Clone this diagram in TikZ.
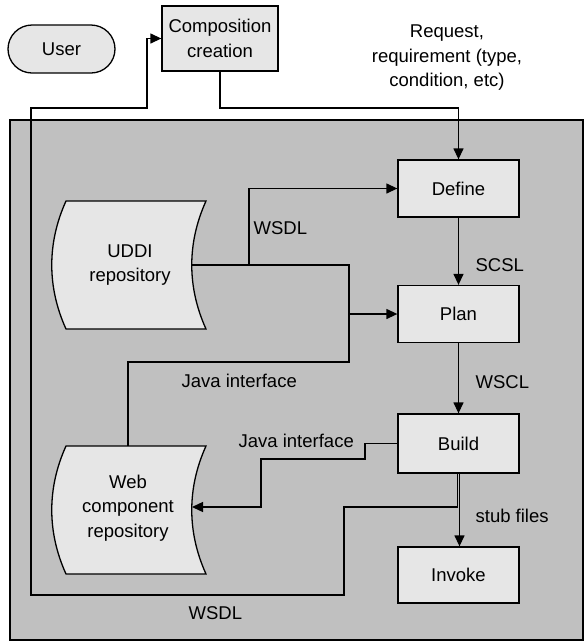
\documentclass[tikz,border=0pt]{standalone}
\usepackage{fontspec}
\setmainfont{Liberation Sans}
\usepackage{tikz}
\usetikzlibrary{arrows.meta}
\usetikzlibrary{positioning}
\usetikzlibrary{math}
\definecolor{panelgray}{HTML}{C0C0C0}
\definecolor{boxgray}{HTML}{E6E6E6}
\tikzstyle{box} = [rectangle, draw=black, fill=boxgray, line width=1.3pt, minimum width=121pt, minimum height=57pt, align=center, text centered]
\tikzstyle{lbl} = [inner sep=0pt, anchor=west]
\tikzstyle{arrow} = [-{Triangle[length=11pt,width=10pt]}]

\begin{document}
\begin{tikzpicture}[x=1pt, y=-1pt, line width=1.3pt, font=\fontsize{18.5}{24.5}\selectfont]

  \tikzmath{\bx = 458.5; \rx = 66; \ry = 201; \rw = 140; \rh = 128;}

  \useasboundingbox (0,0) rectangle (584,641);

  % % panel
  \draw[fill=panelgray] (10,120) rectangle (583,640);

  % top row
  \node[box, minimum width=107pt, minimum height=48pt, rounded corners=24pt] (user) at (61.5,49) {User};
  \node[box, minimum width=116pt, minimum height=65pt] (comp) at (220,38.5) {Composition\\creation};
  \node[align=center, inner sep=0pt] (reqtxt) at (447,58) {Request,\\requirement (type,\\condition, etc)};

  % process column
  \node[box] (define) at (\bx,188.5) {Define};
  \node[box] (plan) at (\bx,314) {Plan};
  \node[box, minimum height=59pt] (build) at (\bx,443.5) {Build};
  \node[box, minimum height=56pt] (invoke) at (\bx,575) {Invoke};

  % repositories
  \foreach \n/\dy in {uddi/0, web/245} {
    \draw[fill=boxgray] (\rx,\ry+\dy) -- (\rx+\rw,\ry+\dy)
      .. controls (\rx+\rw-19,\ry+\dy+42) and (\rx+\rw-19,\ry+\dy+86) .. (\rx+\rw,\ry+\dy+\rh)
      -- (\rx,\ry+\dy+\rh)
      .. controls (\rx-19,\ry+\dy+86) and (\rx-19,\ry+\dy+42) .. cycle;
  }
  \node[align=center] (uddi) at (130,265) {UDDI\\repository};
  \node[align=center] (web) at (128,508) {Web\\component\\repository};
  \coordinate (uddi-out) at (192,265);
  \coordinate (web-in) at (192,507);
  \coordinate (web-top) at (128,446);

  % connectors
  \coordinate (req) at (\bx,108);
  \draw[arrow] (comp.south) |- (req) -- (define.north);
  \draw[arrow] (define.south) -- (plan.north);
  \draw[arrow] (plan.south) -- (build.north);
  \draw[arrow] ([xshift=1pt]build.south) -- ([xshift=1pt]invoke.north);

  \coordinate (jw) at (249,265);
  \coordinate (jp) at (349,265);
  \coordinate (jj) at (128,362);
  \draw[arrow] (uddi-out) -- (jw) |- (define.west);
  \draw (jw) -- (jp) |- (jj) -- (web-top);
  \draw[arrow] (plan.west -| jp) -- (plan.west);

  \draw[arrow] (build.west) -| (365,459) -| (261,507) -- (web-in);

  \coordinate (w1) at (344,507);
  \coordinate (w2) at (31,595);
  \coordinate (w3) at (147,108);
  \draw[arrow] ([xshift=-1pt]build.south) |- (w1) |- (w2) |- (w3) |- (comp.west);

  % labels
  \node[lbl] (l-wsdl1) at (253,228) {WSDL};
  \node[lbl] (l-scsl) at (475,265) {SCSL};
  \node[lbl] (l-wscl) at (475,382) {WSCL};
  \node[lbl] (l-java1) at (181,381) {Java interface};
  \node[lbl] (l-java2) at (238,441) {Java interface};
  \node[lbl] (l-stub) at (475,516) {stub files};
  \node[lbl] (l-wsdl2) at (188,613) {WSDL};

\end{tikzpicture}
\end{document}
